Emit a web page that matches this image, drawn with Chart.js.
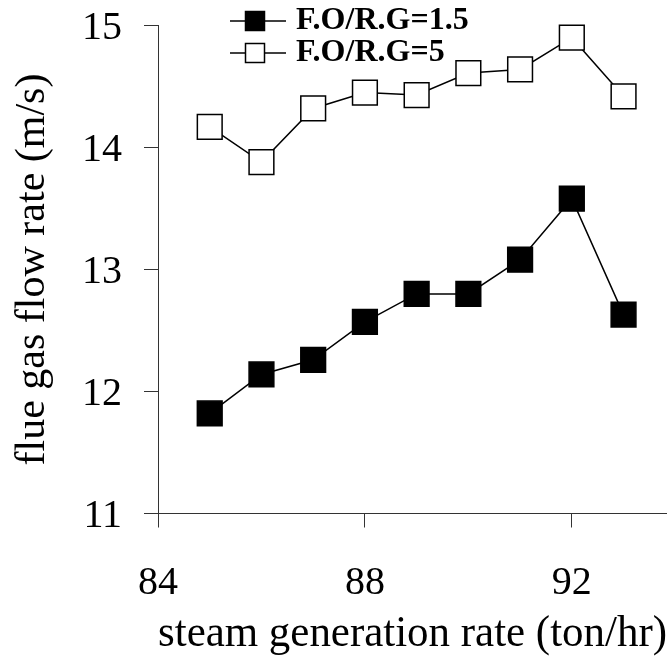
<!DOCTYPE html>
<html lang="en">
  <head>
  <meta charset="utf-8">
  <title>flue gas flow rate</title>
  <script src="https://cdn.jsdelivr.net/npm/chart.js@4.4.1/dist/chart.umd.min.js"></script>
  <style>
    html, body{
      margin: 0;
      overflow: hidden;
      background: #fff;
    }
    #chart_box{
      width: 667px;
      height: 665px;
      position: relative;
    }
  </style>
  </head>
  <body>
    <div id="chart_box"><canvas id="myChart"></canvas></div>
  <script>
    // data
    const steamRate = [85, 86, 87, 88, 89, 90, 91, 92, 93];
    const flowFO15 = [11.82, 12.14, 12.26, 12.57, 12.80, 12.80, 13.08, 13.58, 12.63];
    const flowFO5 = [14.17, 13.88, 14.32, 14.45, 14.43, 14.61, 14.64, 14.90, 14.42];
    const seriesNames = ["F.O/R.G=1.5", "F.O/R.G=5"];
    const xTicks = [84, 88, 92];
    const yTicks = [11, 12, 13, 14, 15];

    // legend icon: line with a square in the middle
    const makeIcon = (fill) =>{
      const c = document.createElement("canvas");
      c.width = 62; c.height = 22;
      const g = c.getContext("2d");
      g.strokeStyle = "#000";
      g.lineWidth = 1.5;
      g.beginPath(); g.moveTo(0, 11); g.lineTo(62, 11); g.stroke();
      g.fillStyle = fill;
      g.fillRect(21.5, 1.5, 19, 19);
      g.strokeRect(21.5, 1.5, 19, 19);
      return c;
    }
    const icons = [makeIcon("#000"), makeIcon("#fff")];

    // move the legend to where it sits in the original
    const legendMove = {
      id: "legendMove",
      afterLayout(chart){
        const lg = chart.legend;
        const w = lg.width, h = lg.height;
        lg.left = 230; lg.top = 5;
        lg.right = lg.left + w; lg.bottom = lg.top + h;
      }
    };

    const serif = "'Liberation Serif', 'Times New Roman', serif";
    Chart.defaults.color = "#000";

    const toPts = (ys) => steamRate.map((x, i) => ({x: x, y: ys[i]}));

    const config = {
      type: "line",
      data: {
        datasets: [{
          label: seriesNames[0],
          data: toPts(flowFO15),
          borderColor: "#000",
          borderWidth: 1.5,
          pointStyle: "rect",
          pointRadius: 17.5,
          pointHoverRadius: 17.5,
          pointBackgroundColor: "#000",
          pointBorderColor: "#000",
          pointBorderWidth: 1.5,
          tension: 0,
          clip: false
        },{
          label: seriesNames[1],
          data: toPts(flowFO5),
          borderColor: "#000",
          borderWidth: 1.5,
          pointStyle: "rect",
          pointRadius: 17.5,
          pointHoverRadius: 17.5,
          pointBackgroundColor: "#fff",
          pointBorderColor: "#000",
          pointBorderWidth: 1.5,
          tension: 0,
          clip: false
        }]
      },
      options: {
        responsive: true,
        maintainAspectRatio: false,
        animation: false,
        layout: { autoPadding: false, padding: { top: 25.5, left: 0, right: 0, bottom: 0 } },
        plugins: {
          tooltip: { enabled: false },
          legend: {
            position: "chartArea",
            align: "start",
            labels: {
              usePointStyle: true,
              pointStyleWidth: 50,
              padding: 0,
              color: "#000",
              font: { family: serif, size: 32, weight: "bold" },
              generateLabels: (chart) =>{
                const items = Chart.defaults.plugins.legend.labels.generateLabels(chart);
                items.forEach((it, i) =>{ it.pointStyle = icons[i]; });
                return items;
              }
            }
          }
        },
        scales: {
          x: {
            type: "linear",
            min: 84,
            max: 93.84,
            afterBuildTicks: (axis) =>{ axis.ticks = xTicks.map(v => ({value: v})); },
            afterFit: (axis) =>{ axis.height = 151.5; axis.paddingLeft = 0; axis.paddingRight = 0; },
            grid: { drawOnChartArea: false, tickLength: 14, color: "#333", lineWidth: 1 },
            border: { color: "#333", width: 1 },
            ticks: { padding: 32, color: "#000", font: { family: serif, size: 40 } },
            title: {
              display: true,
              text: "steam generation rate (ton/hr)",
              color: "#000",
              font: { family: serif, size: 43.5 },
              padding: { top: 0, bottom: 4 }
            }
          },
          y: {
            min: 11,
            max: 15,
            afterBuildTicks: (axis) =>{ axis.ticks = yTicks.map(v => ({value: v})); },
            afterFit: (axis) =>{ axis.width = 158; axis.paddingTop = 0; axis.paddingBottom = 0; },
            grid: { drawOnChartArea: false, tickLength: 14, color: "#333", lineWidth: 1 },
            border: { color: "#333", width: 1 },
            ticks: { padding: 22, labelOffset: 3, color: "#000", font: { family: serif, size: 40 } },
            title: {
              display: true,
              text: "flue gas flow rate (m/s)",
              color: "#000",
              font: { family: serif, size: 42 },
              padding: { top: 8, bottom: 0 }
            }
          }
        }
      },
      plugins: [legendMove]
    };

    new Chart(document.getElementById("myChart"), config);
  </script>
  </body>
</html>
